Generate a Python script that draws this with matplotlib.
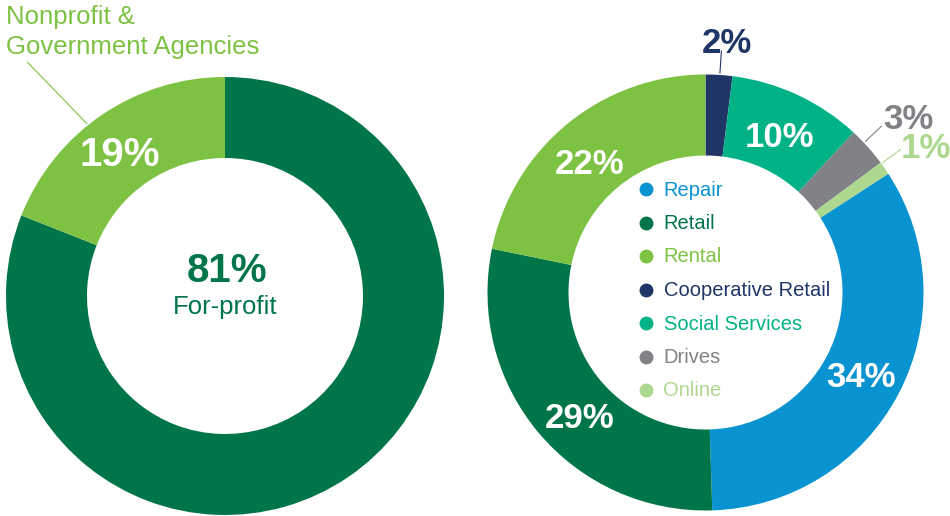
import numpy as np
import matplotlib
matplotlib.use("Agg")
import matplotlib.pyplot as plt

# left donut: sector split
sector_labels = ["For-profit", "Nonprofit &\nGovernment Agencies"]
sector_values = [81, 19]
sector_colors = ["#00754a", "#7dc242"]

# right donut: business types (legend order)
type_labels = ["Repair", "Retail", "Rental", "Cooperative Retail",
               "Social Services", "Drives", "Online"]
type_values = [34, 29, 22, 2, 10, 3, 1]
type_colors = ["#0a93d1", "#00754a", "#7dc242", "#1f3566",
               "#00b285", "#808285", "#aed78f"]

W, H = 950, 516
plt.rcParams['font.family'] = ['Liberation Sans', 'DejaVu Sans']


def Y(y):
    return H - y


def polar(c, r, ang):
    a = np.deg2rad(ang)
    return c[0] + r * np.cos(a), c[1] + r * np.sin(a)


fig = plt.figure(figsize=(W / 100, H / 100), dpi=100)
ax = fig.add_axes([0, 0, 1, 1])

# ---- left donut ----
c1 = (225, Y(296))
r1, w1 = 219, 81
wl, _ = ax.pie(sector_values, colors=sector_colors, startangle=90,
               counterclock=False, center=c1, radius=r1,
               wedgeprops=dict(width=w1, linewidth=0), frame=True)

np_w = wl[1]
mid = (np_w.theta1 + np_w.theta2) / 2
x, y = polar(c1, r1 - w1 / 2, mid + 2)
ax.text(x, y - 3, "%d%%" % sector_values[1], color="white", fontsize=29,
        fontweight="bold", ha="center", va="center")
x0, y0 = polar(c1, r1 + 2, mid + 4.5)
x1, y1 = polar(c1, r1 + 87, mid + 6)
ax.plot([x0, x1], [y0, y1], color=sector_colors[1], lw=0.8)
ax.text(6, Y(5), sector_labels[1], color=sector_colors[1], fontsize=18.5,
        ha="left", va="top", linespacing=1.3)

ax.text(c1[0] + 2, c1[1] + 25, "%d%%" % sector_values[0], color=sector_colors[0],
        fontsize=29, fontweight="bold", ha="center", va="center")
ax.text(c1[0], c1[1] - 11, sector_labels[0], color=sector_colors[0],
        fontsize=18.5, ha="center", va="center")

# ---- right donut ----
order = [3, 4, 5, 6, 0, 1, 2]
c2 = (705.5, Y(292.5))
r2, w2 = 218, 81
wr, _ = ax.pie([type_values[i] for i in order],
               colors=[type_colors[i] for i in order], startangle=90,
               counterclock=False, center=c2, radius=r2,
               wedgeprops=dict(width=w2, linewidth=0), frame=True)

outside = {3: 252, 5: 268, 6: 264}
nudge = {1: 4, 2: 2}
for wdg, i in zip(wr, order):
    mid = (wdg.theta1 + wdg.theta2) / 2
    txt = "%d%%" % type_values[i]
    if i in outside:
        a0 = mid + (1.5 if i != 3 else -0.2)
        x0, y0 = polar(c2, r2 + 2, a0)
        x1, y1 = polar(c2, r2 + 24, a0)
        ax.plot([x0, x1], [y0, y1], color=type_colors[i], lw=0.8)
        x, y = polar(c2, outside[i], mid - 1.2)
        ax.text(x, y - 2, txt, color=type_colors[i], fontsize=25,
                fontweight="bold", ha="center", va="center")
    else:
        x, y = polar(c2, r2 - w2 / 2 - 2, mid + nudge.get(i, 0))
        ax.text(x, y - 4, txt, color="white", fontsize=25, fontweight="bold",
                ha="center", va="center")

# legend inside the hole
lx, ly0, dy = 645.5, 189, 33.5
for k, lab in enumerate(type_labels):
    yy = Y(ly0 + k * dy)
    ax.scatter([lx], [yy], s=100, color=type_colors[k], linewidths=0)
    ax.text(lx + 18, yy - 1, lab, color=type_colors[k], fontsize=14.5,
            ha="left", va="center")

ax.set_xlim(0, W)
ax.set_ylim(0, H)
ax.set_aspect('equal')
ax.axis('off')

fig.savefig("out.png", dpi=100)
